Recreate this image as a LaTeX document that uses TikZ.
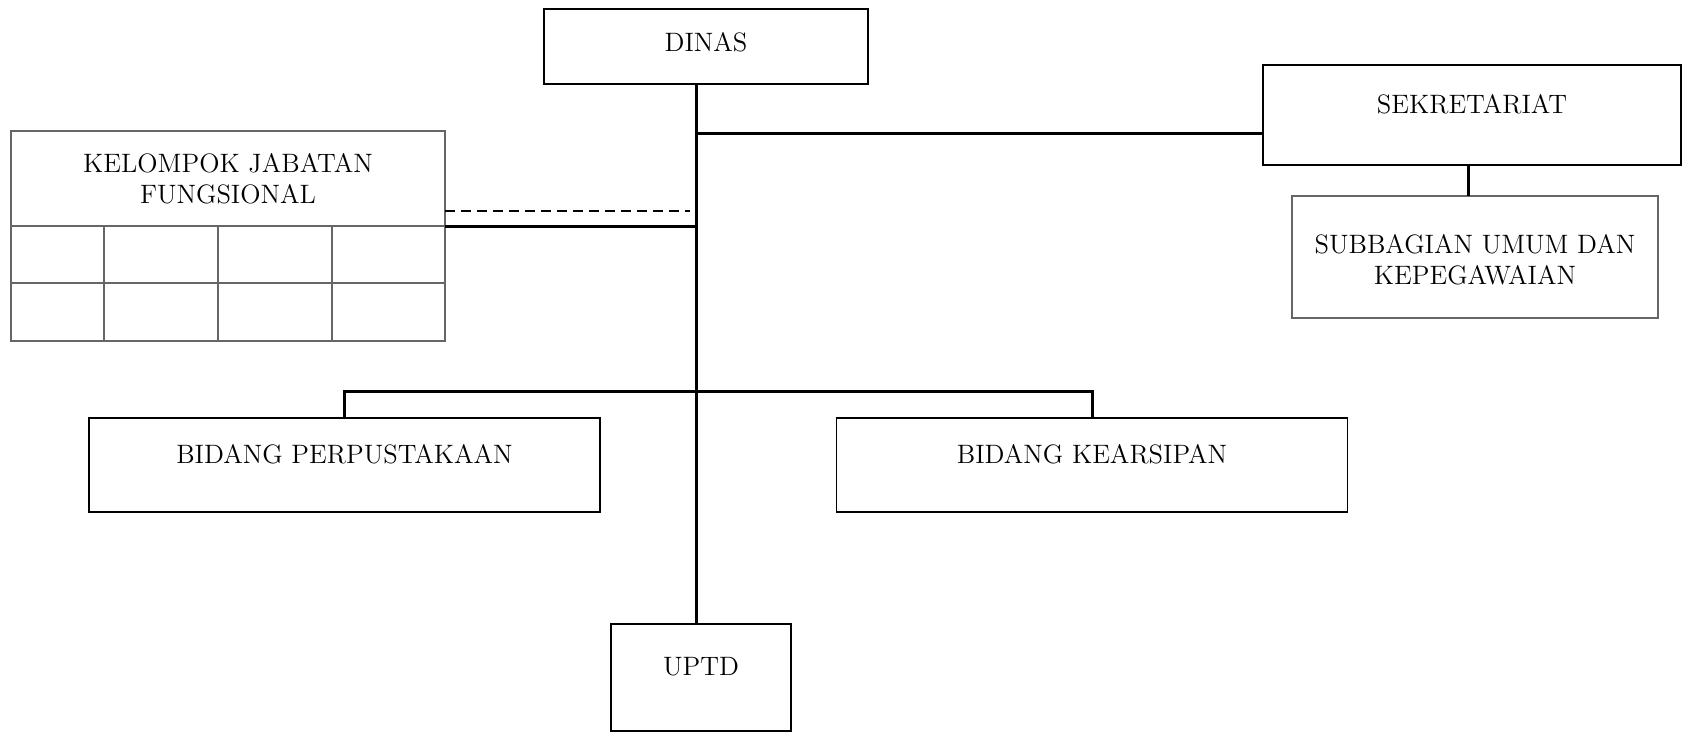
\documentclass[tikz,border=0pt]{standalone}
\begin{document}
\begin{tikzpicture}[x=0.5pt,y=-0.5pt,
  unit/.style={draw=black, line width=0.6pt, inner sep=0pt, outer sep=0pt, fill=white},
  softunit/.style={unit, draw=black!60, line width=0.9pt},
  grid/.style={draw=black!60, line width=0.9pt},
  caption/.style={font=\fontsize{13.3}{15.3}\selectfont, align=center, inner sep=0pt},
  link/.style={draw=black, line width=1.5pt},
  dashlink/.style={draw=black, line width=1pt, dash pattern=on 5pt off 3pt}]
\useasboundingbox (0,0) rectangle (1686,736);

% positions of the vertical lines
\coordinate (trunk) at (696,0);
\coordinate (subline) at (1468,0);

% units
\node[unit, minimum width=162pt, minimum height=37.5pt,
  label={[caption, yshift=2.25pt]center:DINAS}] (dinas) at (706,46.5) {};
\node[unit, minimum width=209pt, minimum height=50pt,
  label={[caption, yshift=5.5pt]center:SEKRETARIAT}] (sek) at (1472,115) {};
\node[softunit, minimum width=183pt, minimum height=61pt,
  label={[caption, yshift=-1.5pt]center:SUBBAGIAN UMUM DAN\\KEPEGAWAIAN}] (sub) at (1475,257) {};
\node[softunit, minimum width=217pt, minimum height=105pt,
  label={[caption, yshift=28.5pt]center:KELOMPOK JABATAN\\FUNGSIONAL}] (kjf) at (228,236) {};
\node[unit, minimum width=255.5pt, minimum height=47pt,
  label={[caption, yshift=5.25pt]center:BIDANG PERPUSTAKAAN}] (perp) at (344.5,465) {};
\node[unit, minimum width=255.5pt, minimum height=47pt,
  label={[caption, yshift=5.25pt]center:BIDANG KEARSIPAN}] (kear) at (1092,465) {};
\node[unit, minimum width=90pt, minimum height=53.5pt,
  label={[caption, yshift=5.25pt]center:UPTD}] (uptd) at (701,677.5) {};

% table rows and columns of the functional group
\coordinate (hdr) at (0,226);
\coordinate (row) at (0,283);
\draw[grid] (kjf.west |- hdr) -- (kjf.east |- hdr);
\draw[grid] (kjf.west |- row) -- (kjf.east |- row);
\foreach \cx in {104,218,332}{
  \coordinate (col) at (\cx,226);
  \draw[grid] (col) -- (col |- kjf.south);
}

% connectors
\draw[link] (dinas.south -| trunk) -- (uptd.north -| trunk);
\coordinate (sekjoin) at (696,133);
\draw[link] (sekjoin) -- (sekjoin -| sek.west);
\draw[link] (sek.south -| subline) -- (sub.north -| subline);
\draw[link] (kjf.east |- hdr) -- (hdr -| trunk);
\coordinate (dashend) at (690,211);
\draw[dashlink] (kjf.east |- dashend) -- (dashend);
\draw[link] (perp.north) -- ++(0,-27) -| (kear.north);
\end{tikzpicture}
\end{document}
